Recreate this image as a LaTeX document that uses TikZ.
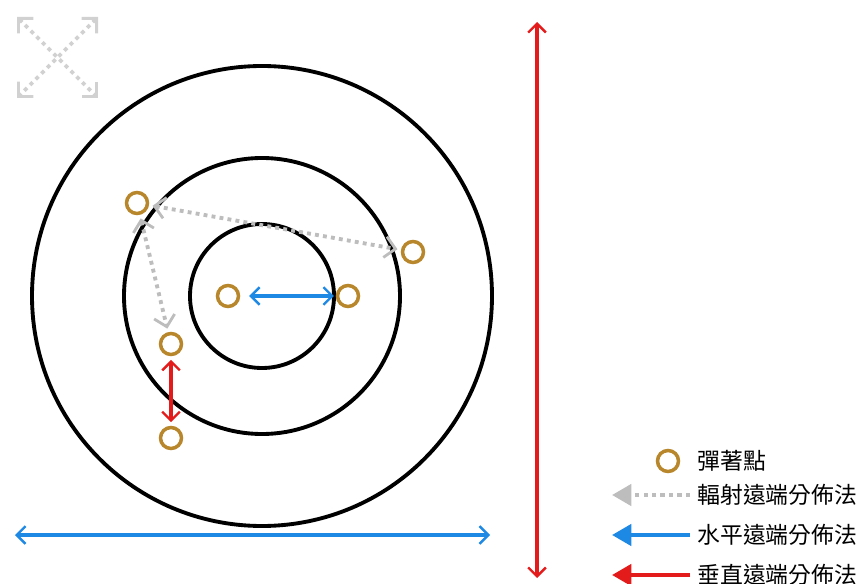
\documentclass[tikz,border=0pt]{standalone}
\usepackage{fontspec}
\setmainfont{Noto Sans CJK TC}
\usetikzlibrary{arrows.meta, positioning}
\definecolor{ringc}{HTML}{B8862B}
\definecolor{hblue}{HTML}{1E88E5}
\definecolor{vred}{HTML}{E31B1B}
\definecolor{rgray}{HTML}{BDBDBD}

\begin{document}
\begin{tikzpicture}[x=0.02cm,y=-0.02cm,font=\fontsize{13}{15}\selectfont,
  hole/.style={circle,draw=ringc,line width=2pt,fill=white,minimum size=0.42cm,inner sep=0pt},
  target/.style={draw,line width=2.2pt},
  rad/.style={draw=rgray,line width=2.2pt,dash pattern=on 2.2pt off 2.4pt,
              {Straight Barb[length=6pt,width=12pt,line width=1.6pt]}-{Straight Barb[length=6pt,width=12pt,line width=1.6pt]}},
  horz/.style={draw=hblue,line width=2.2pt,
              {Straight Barb[length=5pt,width=10pt,line width=1.4pt]}-{Straight Barb[length=5pt,width=10pt,line width=1.4pt]}},
  vert/.style={draw=vred,line width=2.2pt,
              {Straight Barb[length=5pt,width=10pt,line width=1.4pt]}-{Straight Barb[length=5pt,width=10pt,line width=1.4pt]}},
  key/.style={line width=2.4pt,-{Triangle[length=11pt,width=12pt]}},
  lbl/.style={anchor=west,inner sep=0pt}]
  \useasboundingbox (0,0) rectangle (862,584);
  % target rings
  \draw[target] (262,296) circle[radius=230];
  \draw[target] (262,296) circle[radius=138];
  \draw[target] (262,296) circle[radius=72];
  % impact points
  \node[hole] (h1) at (137,203) {};
  \node[hole] (h2) at (413,252) {};
  \node[hole] (h3) at (228,296) {};
  \node[hole] (h4) at (348,296) {};
  \node[hole] (h5) at (171,344) {};
  \node[hole] (h6) at (171,438) {};
  \draw[rad, shorten <=2pt, shorten >=2pt] (h1) -- (h2);
  \draw[rad, shorten <=2pt, shorten >=2pt] (h1) -- (h5);
  \draw[horz, shorten <=5pt, shorten >=1pt] (h3) -- (h4);
  \draw[vert, shorten <=2pt, shorten >=2pt] (h5) -- (h6);
  % spread across whole target
  \coordinate (bl) at (15,535);
  \coordinate (br) at (490,535);
  \coordinate (rt) at (537,22);
  \coordinate (rb) at (537,578);
  \draw[horz] (bl) -- (br);
  \draw[vert] (rt) -- (rb);
  % corner sign
  \coordinate (c1) at (17,17);
  \coordinate (c2) at (98,98);
  \coordinate (c3) at (98,17);
  \coordinate (c4) at (17,98);
  \draw[rad, draw=rgray!70] (c1) -- (c2);
  \draw[rad, draw=rgray!70] (c3) -- (c4);
  % legend
  \node[hole] (k1) at (668,461) {};
  \node[lbl] (t1) at (697,461) {彈著點};
  \coordinate (k2) at (690,495);
  \coordinate (k2e) at (612,495);
  \node[lbl] (t2) at (697,495) {輻射遠端分佈法};
  \coordinate (k3) at (690,535);
  \coordinate (k3e) at (612,535);
  \node[lbl] (t3) at (697,535) {水平遠端分佈法};
  \coordinate (k4) at (690,575);
  \coordinate (k4e) at (612,575);
  \node[lbl] (t4) at (697,575) {垂直遠端分佈法};
  \draw[key, draw=rgray, dash pattern=on 2.4pt off 2.4pt] (k2) -- (k2e);
  \draw[key, draw=hblue] (k3) -- (k3e);
  \draw[key, draw=vred] (k4) -- (k4e);
\end{tikzpicture}
\end{document}
